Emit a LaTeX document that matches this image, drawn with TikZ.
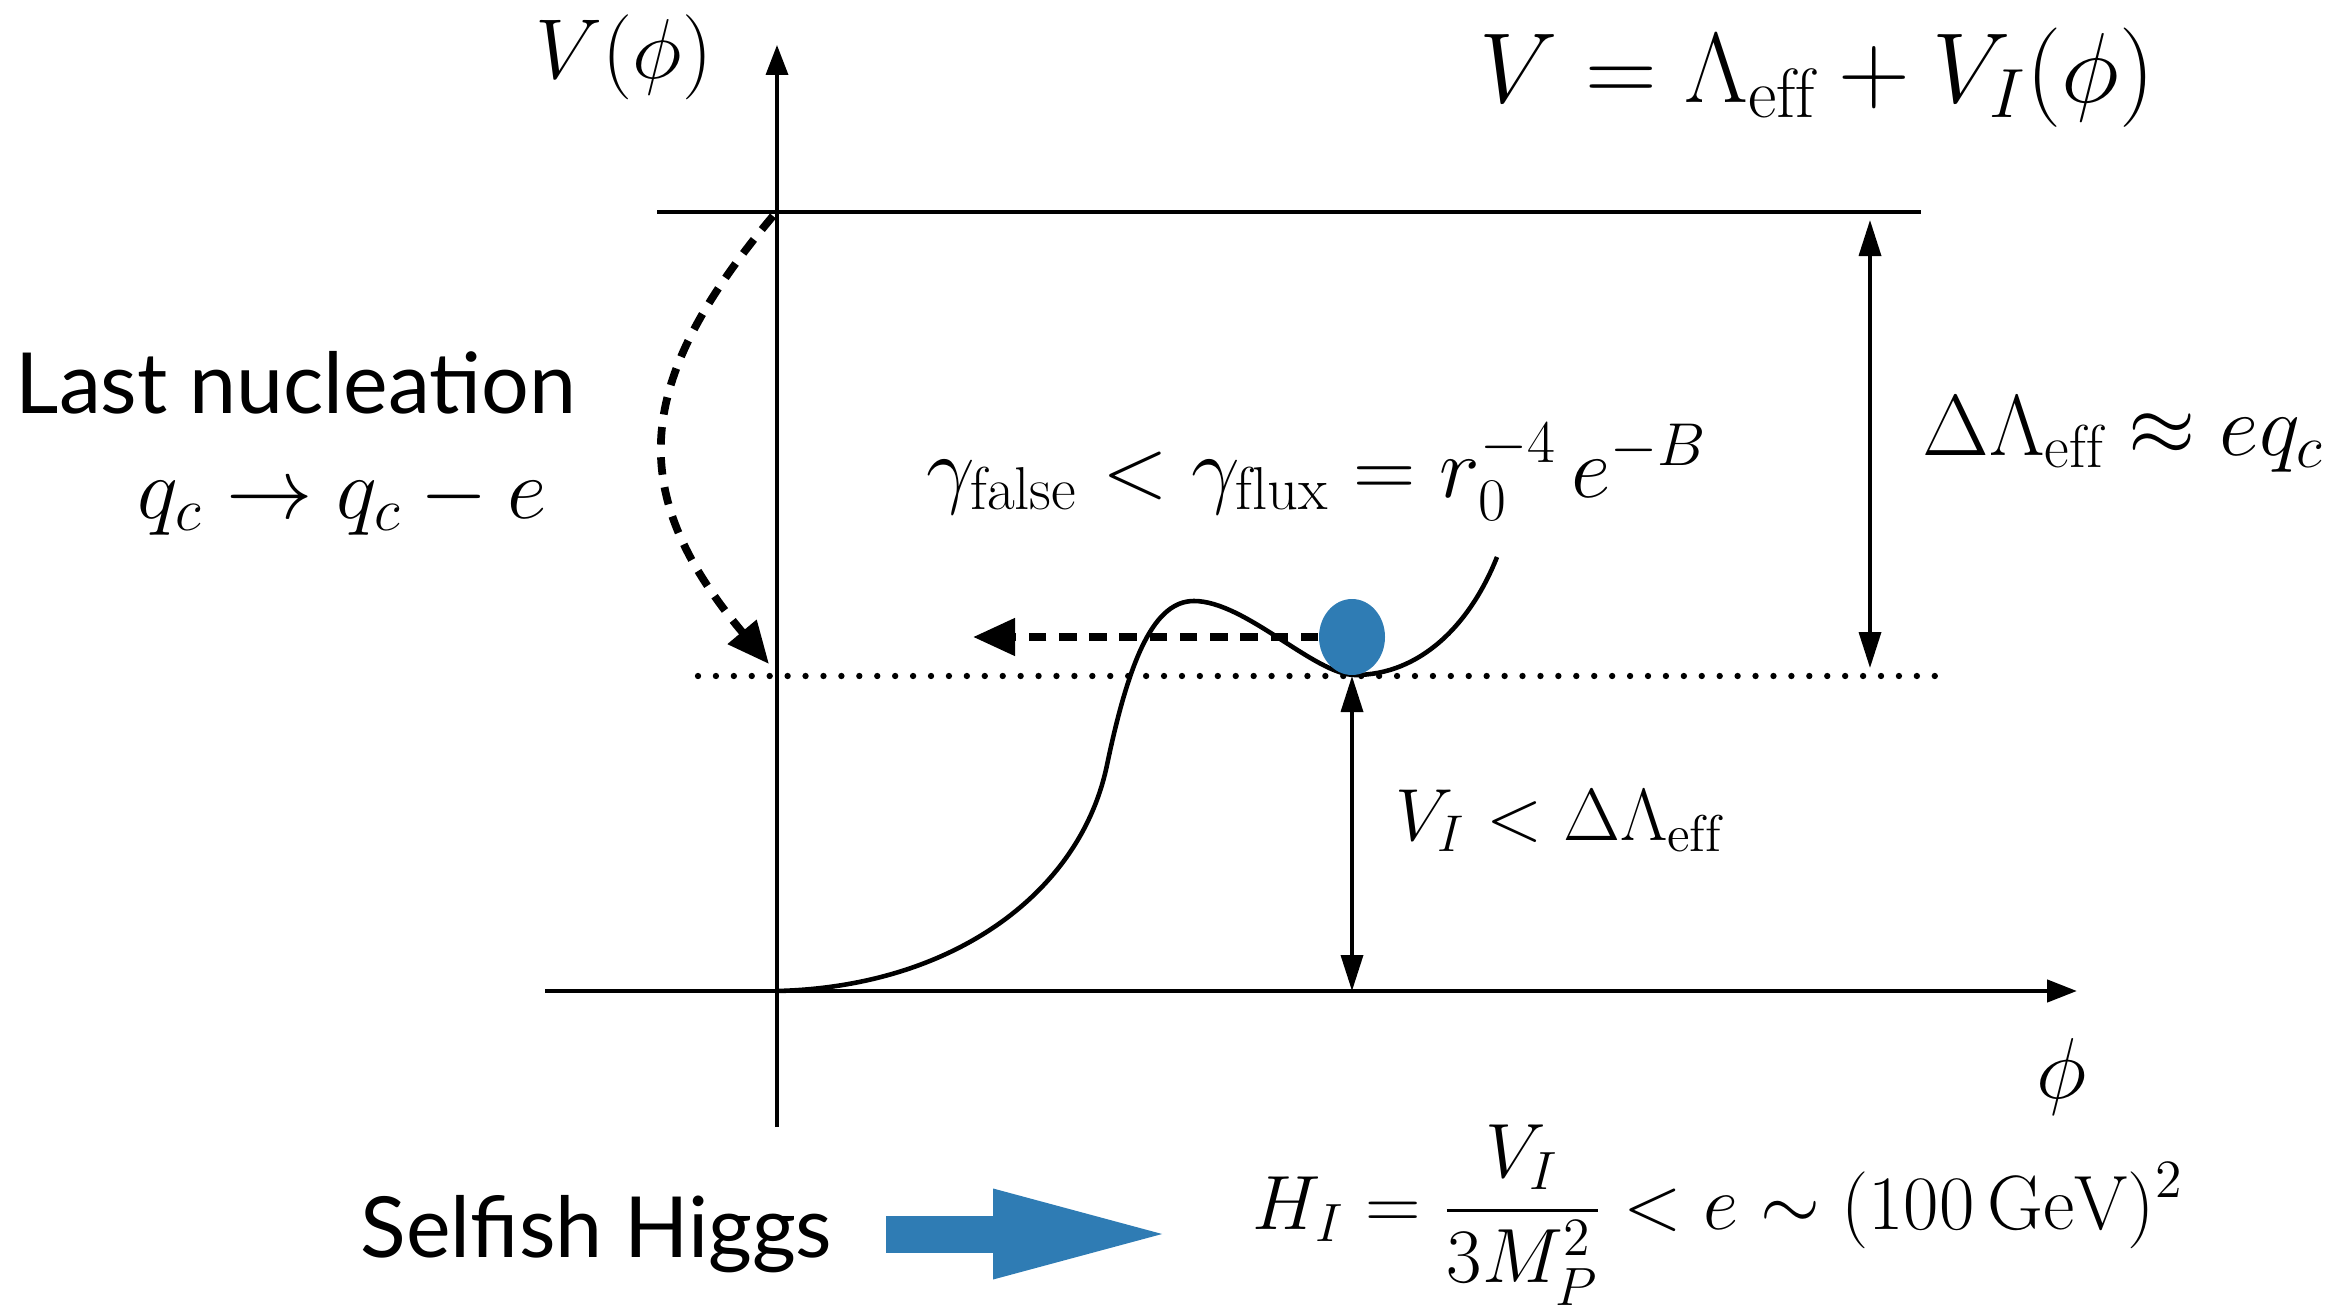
\RequirePackage{fix-cm}
\documentclass[tikz,border=0pt]{standalone}
\usepackage{amsmath}
\usepackage{amssymb}
\usepackage{fontspec}
\usepackage{tikz}
\usetikzlibrary{shapes.geometric, arrows.meta, positioning, calc}
\newfontfamily\gillfont{Lato}
\definecolor{ballBlue}{HTML}{2F7CB4}

\begin{document}
\begin{tikzpicture}[
    axis/.style={line width=1pt, -{Triangle[length=3mm, width=2.2mm]}},
    level/.style={line width=1.2pt},
    dotline/.style={line width=1.8pt, line cap=round, dash pattern=on 0pt off 5.1pt},
    potential/.style={line width=1.3pt},
    jump/.style={line width=2.2pt, dash pattern=on 5pt off 3.6pt,
                 -{Triangle[length=4.2mm, width=3.6mm]}},
    span/.style={line width=1pt,
                 {Triangle[length=3.6mm, width=2.2mm]}-{Triangle[length=3.6mm, width=2.2mm]}},
    ball/.style={ellipse, fill=ballBlue, minimum width=0.66cm,
                 minimum height=0.76cm, inner sep=0pt},
    eq/.style={font=\fontsize{24.6}{29}\selectfont, inner sep=0pt},
    smalleq/.style={font=\fontsize{21}{25}\selectfont, inner sep=0pt},
    bigeq/.style={font=\fontsize{28.3}{34}\selectfont, inner sep=0pt},
    words/.style={font=\gillfont\fontsize{24}{29}\selectfont, inner sep=0pt},
    bigarrow/.style={line width=3.7mm, ballBlue,
                     -{Triangle[length=16.9mm, width=9.1mm, line width=0pt]}},
]
\useasboundingbox (0,0) rectangle (23.4,13.15);

\coordinate (origin) at (7.77,3.24);
\coordinate (ybot) at (7.77,1.88);
\coordinate (ytop) at (7.77,12.70);
\coordinate (xleft) at (5.45,3.24);
\coordinate (xright) at (20.77,3.24);

\draw[axis] (ybot) -- (ytop);
\draw[axis, line width=1.3pt] (xleft) -- (xright);
\draw[level] (6.57,11.03) coordinate (topleft) -- (19.21,11.03) coordinate (topright);
\draw[dotline] (6.98,6.39) coordinate (lowleft) -- (19.36,6.39) coordinate (lowright);

\draw[potential] (origin) .. controls (9.5,3.28) and (10.8,4.2) .. (11.07,5.5)
    .. controls (11.3,6.6) and (11.55,7.14) .. (11.94,7.14)
    .. controls (12.45,7.14) and (13.15,6.40) .. (13.55,6.40)
    .. controls (14.2,6.40) and (14.7,6.9) .. (14.97,7.58);

\node[ball] (ball) at (13.52,6.78) {};
\coordinate (tunnel) at (9.73,6.78);
\draw[jump] (ball.west) -- (tunnel);

\coordinate (topcross) at (7.73,10.99);
\coordinate (lowcross) at (7.69,6.51);
\draw[jump] (topcross) to[out=230, in=130, looseness=1.26] (lowcross);

\coordinate (minpt) at (13.52,6.39);
\coordinate (minfoot) at (13.52,3.24);
\draw[span] (minpt) -- (minfoot);
\coordinate (gaptop) at (18.70,11.03);
\coordinate (gapbot) at (18.70,6.39);
\draw[span, shorten <=0.08cm, shorten >=0.08cm] (gaptop) -- (gapbot);

\node[eq, font=\fontsize{24.2}{29}\selectfont] (vlabel) at (6.24,12.58) {$V(\phi)$};
\node[eq] (philabel) at (20.62,2.38) {$\phi$};
\node[bigeq] (vtotal) at (18.17,12.37) {$V=\Lambda_{\mathrm{eff}}+V_I(\phi)$};
\node[words, anchor=base west] (lastnuc) at (0.15,9.02) {Last nucleation};
\node[eq, anchor=base] (shift) at (3.42,7.97) {$q_c\to q_c-e$};
\node[eq, anchor=base] (rates) at (13.17,8.18)
    {$\gamma_{\mathrm{false}}<\gamma_{\mathrm{flux}}=r_0^{-4}\,e^{-B}$};
\node[eq, anchor=base west] (gaplabel) at (19.22,8.60)
    {$\Delta\Lambda_{\mathrm{eff}}\approx e q_c$};
\node[smalleq, anchor=base west] (vilabel) at (13.95,4.75)
    {$V_I<\Delta\Lambda_{\mathrm{eff}}$};

\node[words, anchor=east] (higgs) at (8.33,0.81) {Selfish Higgs};
\node[font=\fontsize{21.9}{26}\selectfont, inner sep=0pt] (hubble) at (17.18,1.0)
    {$\displaystyle H_I=\frac{V_I}{3M_P^2}<e\sim(100\,\mathrm{GeV})^2$};
\draw[bigarrow, shorten <=0.53cm, shorten >=0.9cm] (higgs.east) -- (higgs.east -| hubble.west);
\end{tikzpicture}
\end{document}
